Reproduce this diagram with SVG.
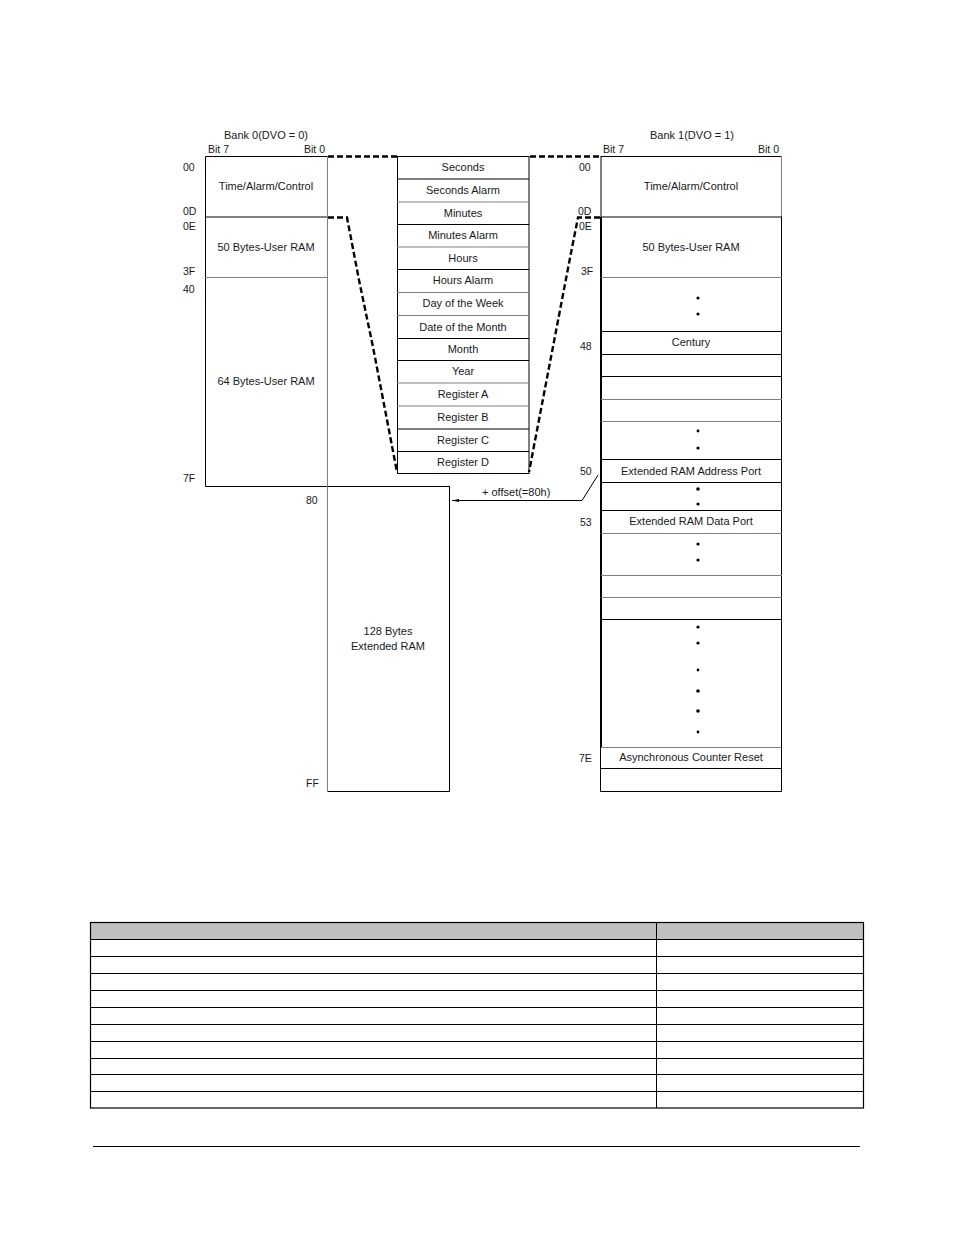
<svg xmlns="http://www.w3.org/2000/svg" width="954" height="1235" viewBox="0 0 954 1235">
<defs>
<style>
text{font-family:"Liberation Sans",Arial,sans-serif;font-size:11px;fill:#1a1a1a}
.c{text-anchor:middle}
.lbl{font-size:10.5px}
.k{stroke:#000;stroke-width:1;fill:none}
.g{stroke:#808080;stroke-width:1;fill:none}
.d{stroke:#000;stroke-width:2.4;fill:none;stroke-dasharray:6 3}
.dot{fill:#000}
</style>
<marker id="ah" markerWidth="8" markerHeight="6" refX="7" refY="3" orient="auto" markerUnits="userSpaceOnUse">
<path d="M0,1.5 L7,3 L0,4.5 Z" fill="#000"/>
</marker>
</defs>
<rect width="954" height="1235" fill="#fff"/>

<g id="bank0">
<text class="c" x="266" y="139">Bank 0(DVO = 0)</text>
<text class="lbl" x="208" y="153">Bit 7</text>
<text class="lbl" x="304" y="153">Bit 0</text>
<path class="k" d="M327,156.5 H205.5 V486.5 H449"/>
<line class="k" x1="205" y1="217" x2="327" y2="217"/>
<line class="g" x1="205" y1="277.5" x2="327" y2="277.5"/>
<line class="g" x1="327.5" y1="156" x2="327.5" y2="486"/>
<text class="c" x="266" y="190">Time/Alarm/Control</text>
<text class="c" x="266" y="251">50 Bytes-User RAM</text>
<text class="c" x="266" y="385">64 Bytes-User RAM</text>
<text class="lbl" x="183" y="171">00</text>
<text class="lbl" x="183" y="215">0D</text>
<text class="lbl" x="183" y="230">0E</text>
<text class="lbl" x="183" y="275">3F</text>
<text class="lbl" x="183" y="293">40</text>
<text class="lbl" x="183" y="482">7F</text>
</g>

<g id="ext-ram">
<path class="k" d="M449.5,486 V791.5 H327.5"/>
<line class="g" x1="327.5" y1="486" x2="327.5" y2="791"/>
<text class="c" x="388" y="635">128 Bytes</text>
<text class="c" x="388" y="650">Extended RAM</text>
<text class="lbl" x="306" y="504">80</text>
<text class="lbl" x="306" y="787">FF</text>
</g>

<g id="rtc-regs">
<rect x="397.5" y="156.5" width="131.5" height="317" fill="none" stroke="#000" stroke-width="1"/>
<line class="k" x1="397" y1="179" x2="529" y2="179"/>
<line class="g" x1="397" y1="202" x2="529" y2="202"/>
<line class="k" x1="397" y1="224.5" x2="529" y2="224.5"/>
<line class="g" x1="397" y1="247" x2="529" y2="247"/>
<line class="k" x1="397" y1="269.5" x2="529" y2="269.5"/>
<line class="g" x1="397" y1="292.5" x2="529" y2="292.5"/>
<line class="g" x1="397" y1="315.5" x2="529" y2="315.5"/>
<line class="k" x1="397" y1="338.5" x2="529" y2="338.5"/>
<line class="k" x1="397" y1="360.5" x2="529" y2="360.5"/>
<line class="g" x1="397" y1="383" x2="529" y2="383"/>
<line class="g" x1="397" y1="406" x2="529" y2="406"/>
<line class="k" x1="397" y1="429" x2="529" y2="429"/>
<line class="k" x1="397" y1="451.5" x2="529" y2="451.5"/>
<text class="c" x="463" y="171">Seconds</text>
<text class="c" x="463" y="194">Seconds Alarm</text>
<text class="c" x="463" y="217">Minutes</text>
<text class="c" x="463" y="239">Minutes Alarm</text>
<text class="c" x="463" y="262">Hours</text>
<text class="c" x="463" y="284">Hours Alarm</text>
<text class="c" x="463" y="307">Day of the Week</text>
<text class="c" x="463" y="331">Date of the Month</text>
<text class="c" x="463" y="353">Month</text>
<text class="c" x="463" y="375">Year</text>
<text class="c" x="463" y="398">Register A</text>
<text class="c" x="463" y="421">Register B</text>
<text class="c" x="463" y="444">Register C</text>
<text class="c" x="463" y="466">Register D</text>
</g>

<g id="bank1">
<text class="c" x="692" y="139">Bank 1(DVO = 1)</text>
<text class="lbl" x="603" y="153">Bit 7</text>
<text class="lbl" x="758" y="153">Bit 0</text>
<path class="k" d="M601,156.5 H781.5"/>
<line class="g" x1="781.5" y1="156" x2="781.5" y2="217"/>
<line class="k" x1="781.5" y1="217" x2="781.5" y2="747"/>
<line class="k" x1="601" y1="156" x2="601" y2="217"/>
<line x1="601" y1="217" x2="601" y2="747" stroke="#000" stroke-width="2"/>
<line class="k" x1="601" y1="217" x2="782" y2="217"/>
<line class="g" x1="601" y1="277.5" x2="782" y2="277.5"/>
<line class="k" x1="601" y1="331.5" x2="782" y2="331.5"/>
<line class="k" x1="601" y1="354.5" x2="782" y2="354.5"/>
<line class="k" x1="601" y1="376.5" x2="782" y2="376.5"/>
<line class="g" x1="601" y1="399.5" x2="782" y2="399.5"/>
<line class="g" x1="601" y1="421.5" x2="782" y2="421.5"/>
<line class="k" x1="601" y1="459.5" x2="782" y2="459.5"/>
<line class="k" x1="601" y1="482.5" x2="782" y2="482.5"/>
<line class="k" x1="601" y1="510.5" x2="782" y2="510.5"/>
<line class="g" x1="601" y1="533.5" x2="782" y2="533.5"/>
<line class="g" x1="601" y1="575.5" x2="782" y2="575.5"/>
<line class="g" x1="601" y1="597.5" x2="782" y2="597.5"/>
<line class="k" x1="601" y1="619.5" x2="782" y2="619.5"/>
<path class="g" d="M601,747.5 H781"/>
<path class="k" d="M600.5,747 V791.5 H781.5 V747"/>
<line class="k" x1="601" y1="768.5" x2="781" y2="768.5"/>
<text class="c" x="691" y="190">Time/Alarm/Control</text>
<text class="c" x="691" y="251">50 Bytes-User RAM</text>
<text class="c" x="691" y="346">Century</text>
<text class="c" x="691" y="475">Extended RAM Address Port</text>
<text class="c" x="691" y="525">Extended RAM Data Port</text>
<text class="c" x="691" y="761">Asynchronous Counter Reset</text>
<circle class="dot" cx="698" cy="298" r="1.6"/>
<circle class="dot" cx="698" cy="314" r="1.6"/>
<circle class="dot" cx="698" cy="431" r="1.4"/>
<circle class="dot" cx="698" cy="448" r="1.6"/>
<circle class="dot" cx="698" cy="489" r="1.8"/>
<circle class="dot" cx="698" cy="504" r="1.6"/>
<circle class="dot" cx="698" cy="544" r="1.6"/>
<circle class="dot" cx="698" cy="560" r="1.6"/>
<circle class="dot" cx="698" cy="627" r="1.6"/>
<circle class="dot" cx="698" cy="643" r="1.6"/>
<circle class="dot" cx="698" cy="670" r="1.4"/>
<circle class="dot" cx="698" cy="691" r="1.8"/>
<circle class="dot" cx="698" cy="711" r="1.8"/>
<circle class="dot" cx="698" cy="732" r="1.4"/>
<text class="lbl" x="579" y="171">00</text>
<text class="lbl" x="578" y="215">0D</text>
<text class="lbl" x="579" y="230">0E</text>
<text class="lbl" x="581" y="275">3F</text>
<text class="lbl" x="580" y="350">48</text>
<text class="lbl" x="580" y="475">50</text>
<text class="lbl" x="580" y="526">53</text>
<text class="lbl" x="579" y="762">7E</text>
</g>

<g id="connectors">
<line class="d" x1="328" y1="156.5" x2="397" y2="156.5"/>
<line class="d" x1="530" y1="156.5" x2="600" y2="156.5"/>
<path class="d" d="M328,217.5 H347 L359,280 L373,347 L397,472"/>
<path class="d" d="M600,217.5 H578 L570,258 L529,472"/>
<path d="M598,475 L582,500.5 H452" stroke="#000" stroke-width="1" fill="none" marker-end="url(#ah)"/>
<text x="482" y="496">+ offset(=80h)</text>
</g>

<g id="table">
<rect x="90.5" y="922.5" width="773" height="17" fill="#c0c0c0"/>
<rect x="90.5" y="922.5" width="773" height="185.5" fill="none" stroke="#000" stroke-width="1.2"/>
<line class="k" x1="656.5" y1="922" x2="656.5" y2="1108"/>
<line class="k" x1="90" y1="939.5" x2="864" y2="939.5"/>
<line class="k" x1="90" y1="956.5" x2="864" y2="956.5"/>
<line class="k" x1="90" y1="973.5" x2="864" y2="973.5"/>
<line class="k" x1="90" y1="990.5" x2="864" y2="990.5"/>
<line class="k" x1="90" y1="1007.5" x2="864" y2="1007.5"/>
<line class="k" x1="90" y1="1024.5" x2="864" y2="1024.5"/>
<line class="k" x1="90" y1="1041.5" x2="864" y2="1041.5"/>
<line class="k" x1="90" y1="1058.5" x2="864" y2="1058.5"/>
<line class="k" x1="90" y1="1074.5" x2="864" y2="1074.5"/>
<line class="k" x1="90" y1="1091.5" x2="864" y2="1091.5"/>
</g>

<line x1="93" y1="1146.5" x2="860" y2="1146.5" stroke="#000" stroke-width="1"/>
</svg>
